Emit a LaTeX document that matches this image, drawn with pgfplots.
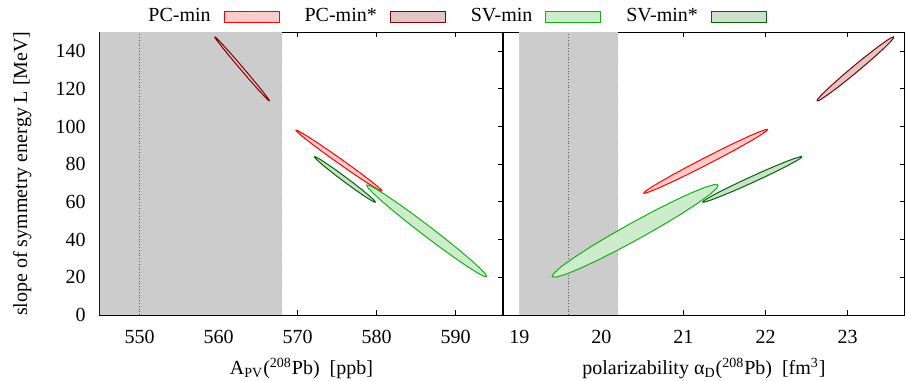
\documentclass[border=0pt]{standalone}
\usepackage{fontspec}
\setmainfont{Liberation Serif}
\usepackage{pgfplots}
\pgfplotsset{compat=1.18}
\definecolor{pcline}{RGB}{255,0,0}
\definecolor{pcfill}{RGB}{255,204,204}
\definecolor{pcsline}{RGB}{128,0,0}
\definecolor{pcsfill}{RGB}{224,198,198}
\definecolor{svline}{RGB}{20,176,20}
\definecolor{svfill}{RGB}{204,236,204}
\definecolor{svsline}{RGB}{0,100,0}
\definecolor{svsfill}{RGB}{204,224,204}
\definecolor{bandgray}{RGB}{204,204,204}
\begin{document}
\begin{tikzpicture}
\path[use as bounding box] (-50pt,-33pt) rectangle (403.5pt,157.5pt);
\pgfplotsset{
  every axis/.append style={
    scale only axis, height=141.35pt, ymin=0, ymax=150, ytick={0,20,...,140},
    tick align=inside, major tick length=2.5pt,
    tick style={black, line width=0.5pt},
    axis line style={line width=0.5pt},
    /pgf/number format/assume math mode=true,
    xticklabel style={yshift=-4pt}, yticklabel style={xshift=-3.7pt},
    xtick pos=both,
    xlabel style={at={(axis description cs:0.5,-0.2122)}, anchor=base},
    clip=true,
  },
}
\begin{axis}[name=L, at={(0pt,0pt)}, anchor=south west, width=201.5pt,
  xmin=545, xmax=596, xtick={550,560,...,590}, ytick pos=both,
  xlabel={A\textsubscript{PV}(\textsuperscript{208}Pb)\ \ [ppb]},
  ylabel={slope of symmetry energy L [MeV]},
  ylabel style={at={(axis description cs:-0.181,0.5)}, anchor=base},
  legend columns=4, legend plot pos=right,
  legend image code/.code={\draw[#1, line width=0.5pt] (0pt,-3.4pt) rectangle (27.5pt,2.1pt);},
  legend style={at={(axis description cs:0.1191,1.058)}, anchor=west, draw=none, fill=none,
    inner sep=0pt, nodes={inner sep=0pt},
    /tikz/every odd column/.append style={column sep=6.5pt},
    /tikz/every even column/.append style={column sep=12.5pt},
    /tikz/column 4/.append style={column sep=17.5pt}},
]
\addplot[fill=bandgray, draw=none, forget plot] coordinates {(532,150) (568,150)} \closedcycle;
\addplot[densely dotted, color=white!75!black, line width=0.4pt, forget plot] coordinates {(568,0) (568,150)};
\addplot[densely dotted, color=black!65, line width=0.4pt, forget plot] coordinates {(550,0) (550,150)};
\addplot[draw=pcline, fill=pcfill, line width=0.5pt, line join=round, mark=none] coordinates {
(580.71,65.70) (580.57,66.53) (580.07,68.41) (579.24,71.21) (578.14,74.74) (576.84,78.75) (575.43,82.98) (574.01,87.14) (572.68,90.94) (571.52,94.12) (570.61,96.47) (570.02,97.83) (569.79,98.10) (569.93,97.27) (570.43,95.39) (571.26,92.59) (572.36,89.06) (573.66,85.05) (575.07,80.82) (576.49,76.66) (577.82,72.86) (578.98,69.68) (579.89,67.33) (580.48,65.97) (580.71,65.70)};
\addlegendentry{PC-min}
\addplot[draw=pcsline, fill=pcsfill, line width=0.5pt, line join=round, mark=none] coordinates {
(566.46,113.50) (566.38,114.21) (566.07,116.04) (565.55,118.86) (564.85,122.47) (564.03,126.63) (563.13,131.07) (562.23,135.47) (561.38,139.52) (560.64,142.97) (560.06,145.57) (559.68,147.15) (559.52,147.60) (559.60,146.89) (559.91,145.06) (560.44,142.24) (561.13,138.63) (561.95,134.47) (562.85,130.03) (563.75,125.63) (564.60,121.58) (565.34,118.13) (565.92,115.53) (566.31,113.95) (566.46,113.50)};
\addlegendentry{PC-min*}
\addplot[draw=svline, fill=svfill, line width=0.5pt, line join=round, mark=none] coordinates {
(593.95,20.30) (593.79,21.70) (593.13,24.66) (592.00,28.99) (590.49,34.38) (588.70,40.46) (586.74,46.85) (584.76,53.08) (582.89,58.73) (581.25,63.42) (579.96,66.84) (579.10,68.74) (578.74,69.00) (578.90,67.60) (579.56,64.64) (580.69,60.31) (582.20,54.92) (583.99,48.84) (585.95,42.46) (587.93,36.22) (589.80,30.57) (591.44,25.88) (592.73,22.47) (593.59,20.56) (593.95,20.30)};
\addlegendentry{SV-min}
\addplot[draw=svsline, fill=svsfill, line width=0.5pt, line join=round, mark=none] coordinates {
(579.87,59.80) (579.78,60.47) (579.44,61.91) (578.86,64.04) (578.09,66.70) (577.17,69.71) (576.17,72.88) (575.17,75.98) (574.22,78.80) (573.39,81.15) (572.74,82.87) (572.31,83.84) (572.13,84.00) (572.22,83.34) (572.56,81.89) (573.14,79.76) (573.92,77.10) (574.83,74.09) (575.83,70.92) (576.84,67.82) (577.79,65.00) (578.61,62.65) (579.27,60.93) (579.69,59.96) (579.87,59.80)};
\addlegendentry{SV-min*}
\end{axis}
\begin{axis}[name=R, at={(201.5pt,0pt)}, anchor=south west, width=201pt,
  xmin=18.8, xmax=23.7, xtick={19,20,...,23}, ytick pos=right, yticklabels={},
  xlabel={polarizability α\textsubscript{D}(\textsuperscript{208}Pb)\ \ [fm\textsuperscript{3}]},
]
\addplot[fill=bandgray, draw=none] coordinates {(19.0,150) (20.2,150)} \closedcycle;
\addplot[densely dotted, color=white!75!black, line width=0.4pt] coordinates {(20.2,0) (20.2,150)};
\addplot[densely dotted, color=black!65, line width=0.4pt] coordinates {(19.6,0) (19.6,150)};
\addplot[draw=pcline, fill=pcfill, line width=0.5pt, line join=round, mark=none] coordinates {
(22.028,98.50) (21.997,98.36) (21.917,97.08) (21.792,94.74) (21.632,91.50) (21.447,87.58) (21.251,83.25) (21.055,78.80) (20.874,74.55) (20.721,70.77) (20.605,67.72) (20.534,65.62) (20.513,64.60) (20.544,64.74) (20.625,66.02) (20.749,68.36) (20.909,71.60) (21.094,75.52) (21.291,79.85) (21.486,84.30) (21.667,88.55) (21.820,92.33) (21.937,95.38) (22.007,97.48) (22.028,98.50)};
\addplot[draw=pcsline, fill=pcsfill, line width=0.5pt, line join=round, mark=none] coordinates {
(23.566,147.60) (23.543,147.37) (23.490,146.00) (23.410,143.57) (23.309,140.27) (23.193,136.31) (23.071,131.95) (22.950,127.50) (22.840,123.27) (22.747,119.53) (22.677,116.55) (22.636,114.53) (22.627,113.60) (22.650,113.83) (22.703,115.20) (22.783,117.63) (22.884,120.93) (23.000,124.90) (23.122,129.25) (23.243,133.70) (23.354,137.93) (23.447,141.67) (23.516,144.65) (23.557,146.67) (23.566,147.60)};
\addplot[draw=svline, fill=svfill, line width=0.5pt, line join=round, mark=none] coordinates {
(21.424,69.00) (21.376,69.22) (21.263,67.76) (21.091,64.72) (20.874,60.33) (20.624,54.86) (20.361,48.69) (20.100,42.25) (19.861,35.98) (19.660,30.29) (19.509,25.58) (19.420,22.18) (19.399,20.30) (19.447,20.08) (19.560,21.54) (19.732,24.58) (19.950,28.97) (20.199,34.44) (20.463,40.61) (20.723,47.05) (20.962,53.32) (21.163,59.01) (21.314,63.72) (21.403,67.12) (21.424,69.00)};
\addplot[draw=svsline, fill=svsfill, line width=0.5pt, line join=round, mark=none] coordinates {
(22.445,84.00) (22.421,83.97) (22.356,83.11) (22.257,81.49) (22.129,79.23) (21.981,76.47) (21.824,73.40) (21.667,70.23) (21.523,67.18) (21.400,64.46) (21.307,62.24) (21.250,60.69) (21.233,59.90) (21.258,59.94) (21.322,60.79) (21.421,62.41) (21.549,64.67) (21.697,67.43) (21.854,70.50) (22.011,73.67) (22.155,76.72) (22.278,79.45) (22.371,81.66) (22.428,83.22) (22.445,84.00)};
\end{axis}
\end{tikzpicture}
\end{document}
